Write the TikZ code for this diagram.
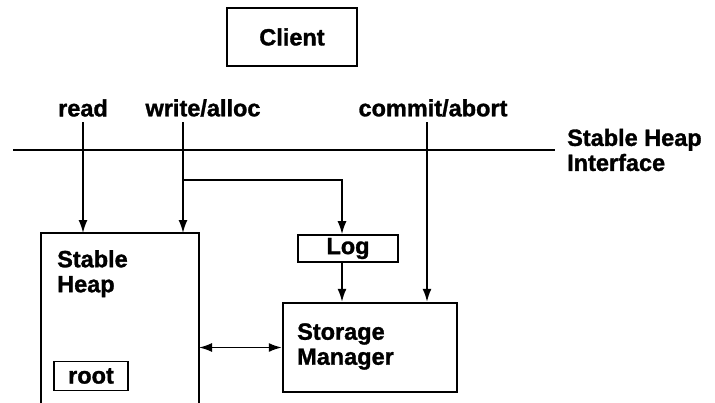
\documentclass[tikz,border=0pt]{standalone}
\usepackage{fontspec}
\setmainfont{Liberation Sans}
\newfontfamily\heavy{Liberation Sans Bold}[FakeBold=1.3]
\usetikzlibrary{arrows.meta}
\begin{document}
\begin{tikzpicture}[x=1pt,y=-1pt,
  lbl/.style={font=\heavy\fontsize{23.5}{25}\selectfont, inner sep=0pt},
  box/.style={draw, line width=1.6pt, inner sep=0pt},
  conn/.style={line width=1.6pt},
  arr/.style={conn, -{Latex[length=13pt,width=9pt]}},
  dbl/.style={conn, {Latex[length=13pt,width=9pt]}-{Latex[length=13pt,width=9pt]}},
]
\useasboundingbox (0,0) rectangle (715,402);
% Client
\node[box, lbl, minimum width=130pt, minimum height=58pt] (client) at (292,37) {Client};
% operation labels
\node[lbl] (read) at (83,108) {read};
\node[lbl] (write) at (203,108) {write/alloc};
\node[lbl] (commit) at (433,108) {commit/abort};
\node[lbl, align=left, anchor=west] (shi) at (567,150) {Stable Heap\\Interface};
% interface line
\coordinate (ifl) at (13,150);
\coordinate (ifr) at (555,150);
\draw[conn] (ifl) -- (ifr);
% stable heap (open at bottom)
\node[minimum width=158pt, minimum height=175pt, inner sep=0pt, outer sep=0pt, anchor=north west] (heap) at (41,233) {};
\draw[conn] (heap.south west) -- (heap.north west) -- (heap.north east) -- (heap.south east);
\node[lbl, align=left, anchor=north west] (heaplbl) at (57,250) {Stable\\Heap};
\node[box, lbl, minimum width=74pt, minimum height=29pt] (root) at (91,376) {root};
% log
\node[box, lbl, minimum width=100pt, minimum height=27pt] (log) at (348,248.5) {Log};
% storage manager
\node[draw, line width=2.4pt, inner sep=0pt, minimum width=174pt, minimum height=89pt] (sm) at (370,347.5) {};
\node[lbl, align=left, anchor=west] (smlbl) at (297,346.5) {Storage\\Manager};
% connectors
\coordinate (rtop) at (83,122);
\coordinate (wtop) at (183,122);
\coordinate (ctop) at (427,122);
\coordinate (wb) at (183,180);
\coordinate (lx) at (342,180);
\draw[arr] (rtop) -- (rtop |- heap.north);
\draw[arr] (wtop) -- (wtop |- heap.north);
\draw[arr] (wb) -- (lx) -- (lx |- log.north);
\draw[arr] (lx |- log.south) -- (lx |- sm.north);
\draw[arr] (ctop) -- (ctop |- sm.north);
\draw[dbl] (heap.east |- sm.west) -- (sm.west);
\end{tikzpicture}
\end{document}
